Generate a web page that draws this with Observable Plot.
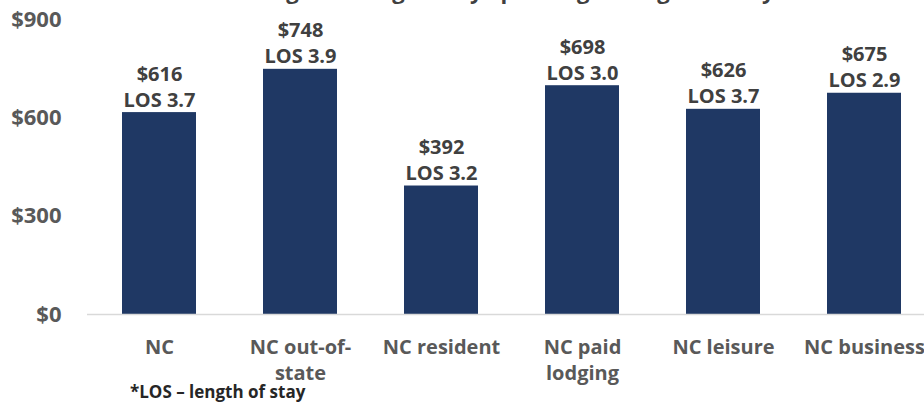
<!DOCTYPE html>
<html>
<head>
<meta charset="utf-8">
<script src="https://cdn.jsdelivr.net/npm/d3@7"></script>
<script src="https://cdn.jsdelivr.net/npm/@observablehq/plot@0.6"></script>
<style>
  html, body { margin: 0; padding: 0; overflow: hidden; background: #fff; width: 924px; height: 402px; }
  #wrap { position: relative; width: 924px; height: 402px; overflow: hidden; }
  #title { position: absolute; left: 212px; top: -20px; font: bold 22px/20px "Open Sans", sans-serif; color: #404040; white-space: nowrap; }
  #note { position: absolute; left: 130px; top: 382px; font: bold 17px/20px "Open Sans", sans-serif; color: #262626; white-space: nowrap; }
  #chart { position: absolute; left: 0; top: 0; width: 936px; }
</style>
</head>
<body>
<div id="wrap">
  <div id="chart"></div>
  <div id="title">Overnight Average Party Spending &amp; Length of Stay</div>
  <div id="note">*LOS – length of stay</div>
</div>
<script>
const categories = ["NC", "NC out-of-state", "NC resident", "NC paid lodging", "NC leisure", "NC business"];
const tickLabels = ["NC", "NC out-of-\nstate", "NC resident", "NC paid\nlodging", "NC leisure", "NC business"];
const spending = [616, 748, 392, 698, 626, 675];
const los = [3.7, 3.9, 3.2, 3.0, 3.7, 2.9];
const yTicks = [0, 300, 600, 900];

const data = categories.map((c, i) => ({cat: c, value: spending[i], los: los[i]}));
const labelOf = new Map(categories.map((c, i) => [c, tickLabels[i]]));

const chart = Plot.plot({
  width: 936,
  height: 402,
  marginLeft: 87,
  marginRight: 0,
  marginTop: 19,
  marginBottom: 88,
  style: {fontFamily: "'Open Sans', sans-serif", fontWeight: "bold", background: "transparent", overflow: "visible", maxWidth: "none"},
  x: {domain: categories, paddingInner: 0.477, paddingOuter: 0.2385, axis: null},
  y: {domain: [0, 900], axis: null},
  marks: [
    Plot.barY(data, {x: "cat", y: "value", fill: "#1f3864"}),
    Plot.ruleY([0], {stroke: "#d9d9d9", strokeWidth: 1.3}),
    Plot.axisY({ticks: yTicks, tickFormat: d => "$" + d, tickSize: 0, tickPadding: 26, fontSize: 22, fill: "#595959", label: null}),
    Plot.axisX({tickFormat: d => labelOf.get(d), tickSize: 0, tickPadding: 21, fontSize: 20, fill: "#595959", lineHeight: 1.3, label: null}),
    Plot.text(data, {x: "cat", y: "value", text: d => `$${d.value}\nLOS ${d.los.toFixed(1)}`, lineAnchor: "bottom", lineHeight: 1.3, dy: -6, fontSize: 20, fill: "#404040"})
  ]
});
document.getElementById("chart").appendChild(chart);
</script>
</body>
</html>
